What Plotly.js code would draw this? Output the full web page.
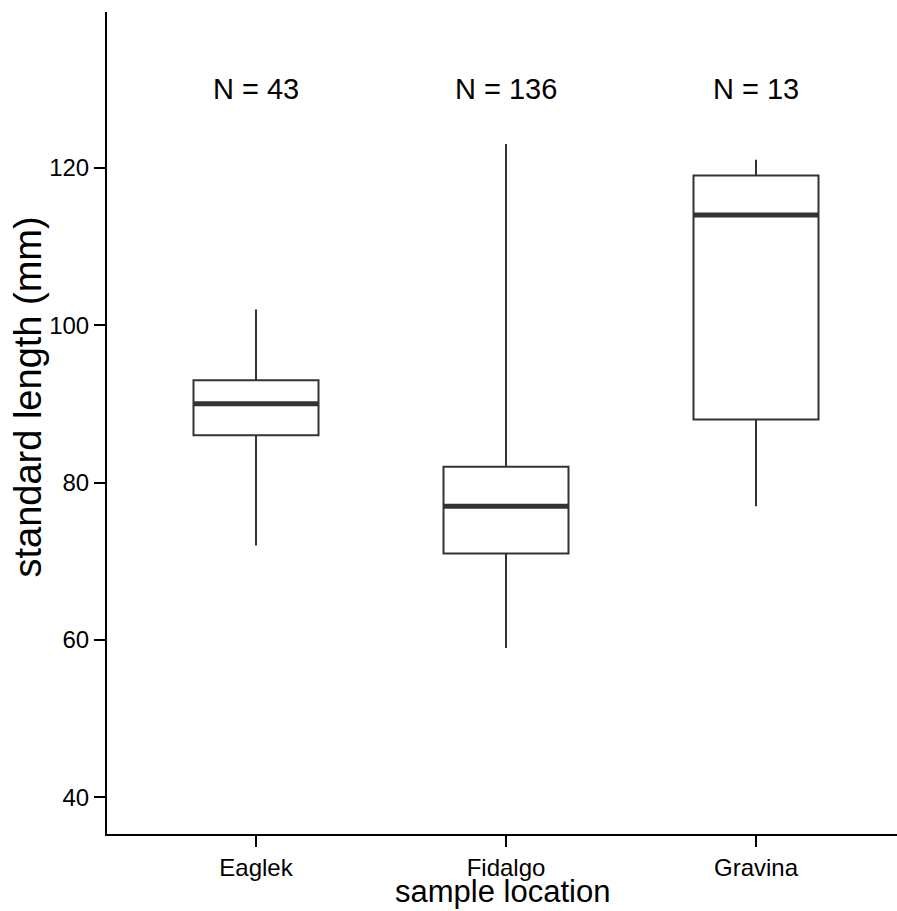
<!DOCTYPE html>
<html>
<head>
<meta charset="utf-8">
<script src="https://cdn.plot.ly/plotly-3.0.1.min.js"></script>
<style>
html,body{margin:0;padding:0;background:#fff;}
#chart{width:897px;height:911px;}
</style>
</head>
<body>
<div id="chart"></div>
<script>
// Data
var categories = ["Eaglek", "Fidalgo", "Gravina"];
var lowerWhisker = [72, 59, 77];
var q1Values = [86, 71, 88];
var medianValues = [90, 77, 114];
var q3Values = [93, 82, 119];
var upperWhisker = [102, 123, 121];
var sampleSizes = [43, 136, 13];
var yTickValues = [40, 60, 80, 100, 120];

var FONT = "Liberation Sans, Arial, Helvetica, sans-serif";
var LINE = "#333333";
var BOXW = 0.5;

var xPos = categories.map(function(_, i){ return i; });

var boxTrace = {
  type: "box",
  x: xPos,
  q1: q1Values,
  median: medianValues,
  q3: q3Values,
  lowerfence: lowerWhisker,
  upperfence: upperWhisker,
  width: BOXW,
  whiskerwidth: 0,
  fillcolor: "#ffffff",
  line: {color: LINE, width: 2},
  boxpoints: false,
  hoverinfo: "skip",
  showlegend: false
};

// Thick median lines drawn over the boxes
var mx = [], my = [];
xPos.forEach(function(x, i){
  mx.push(x - BOXW/2, x + BOXW/2, null);
  my.push(medianValues[i], medianValues[i], null);
});
var medianTrace = {
  type: "scatter",
  mode: "lines",
  x: mx,
  y: my,
  line: {color: LINE, width: 5},
  hoverinfo: "skip",
  showlegend: false
};

var annotations = xPos.map(function(x, i){
  return {
    x: x, y: 130, xref: "x", yref: "y",
    text: "N = " + sampleSizes[i],
    showarrow: false,
    font: {family: FONT, size: 29, color: "#000"},
    xanchor: "center", yanchor: "middle"
  };
});

// y-axis title (placed slightly above the plot centre, as in the reference)
annotations.push({
  x: -0.1, y: 0.531, xref: "paper", yref: "paper",
  text: "standard length (mm)",
  textangle: -90,
  showarrow: false,
  font: {family: FONT, size: 38, color: "#000"},
  xanchor: "center", yanchor: "middle"
});

// x-axis title
annotations.push({
  x: 0.5, y: -0.0705, xref: "paper", yref: "paper",
  text: "sample location",
  showarrow: false,
  font: {family: FONT, size: 31, color: "#000"},
  xanchor: "center", yanchor: "middle"
});

var layout = {
  width: 897,
  height: 911,
  margin: {l: 107, r: 0, t: 12, b: 77},
  paper_bgcolor: "#ffffff",
  plot_bgcolor: "#ffffff",
  font: {family: FONT, color: "#000"},
  showlegend: false,
  xaxis: {
    range: [-0.596, 2.564],
    tickmode: "array",
    tickvals: xPos,
    ticktext: categories,
    showgrid: false,
    zeroline: false,
    showline: true,
    linecolor: "#000",
    linewidth: 2,
    ticks: "outside",
    ticklen: 11,
    tickwidth: 2,
    tickcolor: "#000",
    tickfont: {family: FONT, size: 24, color: "#000"}
  },
  yaxis: {
    range: [35.36, 139.78],
    tickmode: "array",
    tickvals: yTickValues,
    showgrid: false,
    zeroline: false,
    showline: true,
    linecolor: "#000",
    linewidth: 2,
    ticks: "outside",
    ticklen: 11,
    tickwidth: 2,
    tickcolor: "#000",
    tickfont: {family: FONT, size: 24, color: "#000"}
  },
  annotations: annotations
};

Plotly.newPlot("chart", [boxTrace, medianTrace], layout, {displayModeBar: false, staticPlot: true});
</script>
</body>
</html>
